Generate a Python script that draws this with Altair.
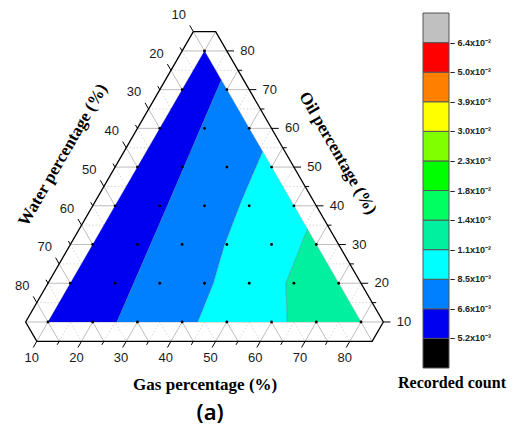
import altair as alt
import numpy as np
import pandas as pd

# ---------------- values ----------------
major_ticks = [10, 20, 30, 40, 50, 60, 70, 80]
minor_ticks = [15, 25, 35, 45, 55, 65, 75]
tick_labels = ["10", "20", "30", "40", "50", "60", "70", "80"]
axis_lo, axis_hi = 5, 85          # extent of the ternary frame (%)

# contour boundaries, as (gas %, oil %) points
blue_azure_gas = [17.5, 21.5, 25.4]
blue_azure_oil = [72.5, 41.5, 10.0]
azure_cyan_gas = [36.0, 37.6, 39.6, 42.0, 43.5]
azure_cyan_oil = [54.0, 41.5, 29.6, 20.0, 10.0]
cyan_green_gas = [56.0, 58.2, 63.5]
cyan_green_oil = [34.0, 20.0, 10.0]

# colour bar: band boundaries (recorded count) and colours (low -> high)
level_labels = ["5.2x10⁻³", "6.6x10⁻³", "8.5x10⁻³", "1.1x10⁻²", "1.4x10⁻²", "1.8x10⁻²",
                "2.3x10⁻²", "3.0x10⁻²", "3.9x10⁻²", "5.0x10⁻²", "6.4x10⁻²"]
level_colors = ["#000000", "#0000F0", "#0080FF", "#00FFFF", "#00F0A0", "#00FF60",
                "#00FF00", "#80FF00", "#FFFF00", "#FF8000", "#FF0000", "#C0C0C0"]
region_level = {"blue": 1, "azure": 2, "cyan": 3, "green": 4}

# ---------------- ternary -> cartesian ----------------
S = np.sqrt(3) / 2


def tern(gas, oil):
    gas = np.asarray(gas, float)
    oil = np.asarray(oil, float)
    return gas + oil / 2, oil * S


def pts(gas, oil):
    return list(zip(gas, oil))


# contour regions
b1 = pts(blue_azure_gas, blue_azure_oil)
b2 = pts(azure_cyan_gas, azure_cyan_oil)
b3 = pts(cyan_green_gas, cyan_green_oil)
regions = {
    "blue": [(10, 10), (10, 80)] + b1,
    "azure": b2 + b1[::-1],
    "cyan": b3 + b2[::-1],
    "green": [(80, 10)] + b3[::-1],
}
rows = []
for name, poly in regions.items():
    for i, (g, o) in enumerate(poly):
        x, y = tern(g, o)
        rows.append(dict(region=name, i=i, x=float(x), y=float(y), level=region_level[name]))
poly_df = pd.DataFrame(rows)

rows = []
for k, b in enumerate([b1, b2, b3]):
    for i, (g, o) in enumerate(b):
        x, y = tern(g, o)
        rows.append(dict(line=k, i=i, x=float(x), y=float(y)))
bound_df = pd.DataFrame(rows)


def grid(vals):
    out = []
    for v in vals:
        segs = [((v, axis_lo), (v, 100 - axis_lo - v)),                       # gas = v
                ((axis_lo, 100 - axis_lo - v), (100 - axis_lo - v, axis_lo)),  # water = v
                ((axis_lo, v), (100 - axis_lo - v, v))]                        # oil = v
        for (g1, o1), (g2, o2) in segs:
            x1, y1 = tern(g1, o1)
            x2, y2 = tern(g2, o2)
            out.append(dict(x=float(x1), y=float(y1), x2=float(x2), y2=float(y2)))
    return pd.DataFrame(out)


major_df = grid(major_ticks)
minor_df = grid(minor_ticks)


def ticks(vals, L):
    out = []
    for v in vals:
        segs = [((v, axis_lo), (v, axis_lo - L)),
                ((axis_lo, 100 - axis_lo - v), (axis_lo - L, 100 - axis_lo - v + L)),
                ((100 - axis_lo - v, v), (100 - axis_lo - v + L, v))]
        for (g1, o1), (g2, o2) in segs:
            x1, y1 = tern(g1, o1)
            x2, y2 = tern(g2, o2)
            out.append(dict(x=float(x1), y=float(y1), x2=float(x2), y2=float(y2)))
    return pd.DataFrame(out)


tick_df = pd.concat([ticks(major_ticks, 1.6), ticks(minor_ticks, 0.9)], ignore_index=True)

frame = [(axis_lo, axis_hi), (100 - axis_lo - axis_hi, axis_hi), (axis_hi, 100 - axis_lo - axis_hi),
         (axis_hi, axis_lo), (100 - axis_lo - axis_hi, axis_lo), (axis_lo, 100 - axis_lo - axis_hi),
         (axis_lo, axis_hi)]
fx, fy = tern([p[0] for p in frame], [p[1] for p in frame])
frame_df = pd.DataFrame(dict(i=range(len(frame)), x=fx, y=fy))

nodes = [(g, o) for g in major_ticks for o in major_ticks if g + o <= 90]
nx, ny = tern([p[0] for p in nodes], [p[1] for p in nodes])
node_df = pd.DataFrame(dict(x=nx, y=ny))

gx, gy = tern([t + 1.0 for t in major_ticks], [0.7] * 8)
gas_lab = pd.DataFrame(dict(x=gx, y=gy, t=tick_labels))
wx, wy = tern([-0.4] * 8, [99.3 - t for t in major_ticks])
water_lab = pd.DataFrame(dict(x=wx, y=wy, t=tick_labels))
ox, oy = tern([98 - t for t in major_ticks], major_ticks)
oil_lab = pd.DataFrame(dict(x=ox, y=oy, t=tick_labels))

titles = ["Water percentage (%)", "Oil percentage (%)", "Gas percentage (%)"]
tx_, ty_ = tern([-8.2, 53.0, 53.3], [53.1, 53.6, -6.3])
title_df = pd.DataFrame(dict(x=tx_, y=ty_, t=titles, a=[300, 60, 0]))
px_, py_ = tern([58.0], [-13.5])
panel_df = pd.DataFrame(dict(x=px_, y=py_, t=["(a)"]))

# ---------------- chart ----------------
xs = alt.Scale(domain=[4.265, 120.34], nice=False, zero=False)
ys = alt.Scale(domain=[-15.50, 80.67], nice=False, zero=False)
X = alt.X("x:Q", scale=xs, axis=None)
Y = alt.Y("y:Q", scale=ys, axis=None)

arr = "[" + ",".join("'\u2013 " + s + "'" for s in level_labels) + "]"
label_expr = f"datum.value >= 1 ? {arr}[datum.value - 1] : ''"

color_scale = alt.Scale(type="threshold", domain=list(range(1, len(level_labels) + 1)), range=level_colors)
legend = alt.Legend(
    type="gradient", title=None, orient="none", legendX=423, legendY=13,
    direction="vertical", gradientLength=355, gradientThickness=26,
    gradientStrokeColor="#555555", gradientStrokeWidth=1,
    labelExpr=label_expr, labelFont="Liberation Sans", labelFontSize=9, labelFontWeight="bold",
    labelColor="#222222", labelOffset=1,
)

minor = alt.Chart(minor_df).mark_rule(color="#c4c4c4", strokeWidth=0.7, strokeDash=[1.5, 2]).encode(
    x=X, y=Y, x2="x2:Q", y2="y2:Q")
major = alt.Chart(major_df).mark_rule(color="#a0a0a0", strokeWidth=0.7).encode(
    x=X, y=Y, x2="x2:Q", y2="y2:Q")
fills = alt.Chart(poly_df).mark_line(filled=True).encode(
    x=X, y=Y, order="i:Q", detail="region:N",
    color=alt.Color("level:Q", scale=color_scale, legend=legend))
bounds = alt.Chart(bound_df).mark_line(color="#3a4a60", strokeWidth=0.6, opacity=0.5).encode(
    x=X, y=Y, order="i:Q", detail="line:N")
frame_l = alt.Chart(frame_df).mark_line(color="black", strokeWidth=1.3).encode(x=X, y=Y, order="i:Q")
tick_l = alt.Chart(tick_df).mark_rule(color="black", strokeWidth=1).encode(x=X, y=Y, x2="x2:Q", y2="y2:Q")
dots = alt.Chart(node_df).mark_circle(color="black", size=8, opacity=1).encode(x=X, y=Y)

lab_style = dict(font="Liberation Sans", fontSize=13, color="#1a1a1a", baseline="middle")
gas_t = alt.Chart(gas_lab).mark_text(align="center", **lab_style).encode(x=X, y=Y, text="t:N")
water_t = alt.Chart(water_lab).mark_text(align="center", **lab_style).encode(x=X, y=Y, text="t:N")
oil_t = alt.Chart(oil_lab).mark_text(align="left", **lab_style).encode(x=X, y=Y, text="t:N")
title_t = alt.Chart(title_df).mark_text(
    font="Liberation Serif", fontSize=17, fontWeight="bold", color="black",
    align="center", baseline="middle").encode(
    x=X, y=Y, text="t:N", angle=alt.Angle("a:Q", scale=None))
panel_t = alt.Chart(panel_df).mark_text(
    font="Noto Sans", fontSize=22, fontWeight=600, color="black", align="center", baseline="middle").encode(
    x=X, y=Y, text="t:N")
# colour-bar title, placed under the bar
cbar_title = alt.Chart(pd.DataFrame(dict(t=["Recorded count"]))).mark_text(
    font="Liberation Serif", fontSize=16, fontWeight="bold", color="black",
    align="left", baseline="middle").encode(x=alt.value(398), y=alt.value(383), text="t:N")

chart = alt.layer(
    minor, major, fills, bounds, frame_l, tick_l, dots, gas_t, water_t, oil_t, title_t, panel_t, cbar_title
).properties(
    width=519, height=430, autosize=alt.AutoSizeParams(type="none"), padding=0
).configure_view(strokeWidth=0)

chart.save("out.html", embed_options={"renderer": "svg", "actions": False})
